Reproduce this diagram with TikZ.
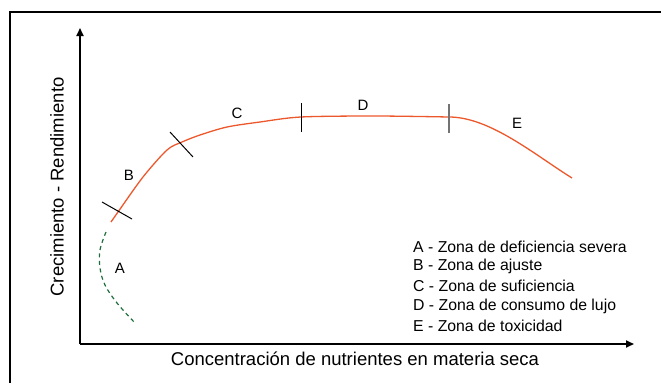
\documentclass[tikz,border=0pt]{standalone}
\usepackage{fontspec}
\setmainfont{Liberation Sans}
\usetikzlibrary{arrows.meta}
\definecolor{curveorange}{RGB}{236,88,44}
\definecolor{curvegreen}{RGB}{30,110,60}
\tikzset{
  axis/.style={line width=1.8pt,-{Triangle[length=8pt,width=7pt]}},
  zone/.style={font=\fontsize{15}{17}\selectfont,inner sep=0pt},
  legend/.style={font=\fontsize{15.8}{18}\selectfont,inner sep=0pt,anchor=west},
  axlabel/.style={font=\fontsize{18.5}{21}\selectfont,inner sep=0pt},
  tickmark/.style={line width=1pt},
}
\begin{document}
\begin{tikzpicture}[x=1pt,y=-1pt]
\useasboundingbox (0,0) rectangle (661,383);
% frame
\draw[line width=1.2pt] (10,383) -- (10,12) -- (661,12);
% axes
\coordinate (O) at (80,344);
\coordinate (Ytop) at (80,28);
\coordinate (Xend) at (634,344);
\draw[axis] (O) -- (Ytop);
\draw[axis] (O) -- (Xend);
% axis labels
\node[axlabel,rotate=90] (ylab) at (57,187) {Crecimiento - Rendimiento};
\node[axlabel] (xlab) at (355,359) {Concentración de nutrientes en materia seca};
% curve
\coordinate (Tde) at (449,117);
\coordinate (Cend) at (572,178);
\draw[curveorange,line width=1.3pt] plot[smooth,tension=0.5] coordinates {
  (111,222) (118,212) (143,177) (167,150) (182,142) (200,135) (227,127)
  (260,122) (301,117) (375,116) (449,117)}
  .. controls (490,117) and (535,155) .. (Cend);
\draw[curvegreen,line width=1.2pt,dash pattern=on 4pt off 3.5pt] plot[smooth,tension=0.6] coordinates {
  (106,232) (100,250) (100,268) (105,285) (117,303) (135,323)};
% tick marks
\draw[tickmark] (102,202) -- (132,219);
\draw[tickmark] (170,132) -- (193,157);
\draw[tickmark] (301,103) -- (301,132);
\draw[tickmark,black!55,line width=1.4pt] (449,104) -- (449,133);
% zone labels
\node[zone] (A) at (120,268) {A};
\node[zone] (B) at (129,175) {B};
\node[zone] (C) at (237,113) {C};
\node[zone] (D) at (363,105) {D};
\node[zone] (E) at (517,123) {E};
% legend
\node[legend] (LA) at (413,247) {A - Zona de deficiencia severa};
\node[legend] (LB) at (413,266.5) {B - Zona de ajuste};
\node[legend] (LC) at (413,286) {C - Zona de suficiencia};
\node[legend] (LD) at (413,306) {D - Zona de consumo de lujo};
\node[legend] (LE) at (413,325.5) {E - Zona de toxicidad};
\end{tikzpicture}
\end{document}
